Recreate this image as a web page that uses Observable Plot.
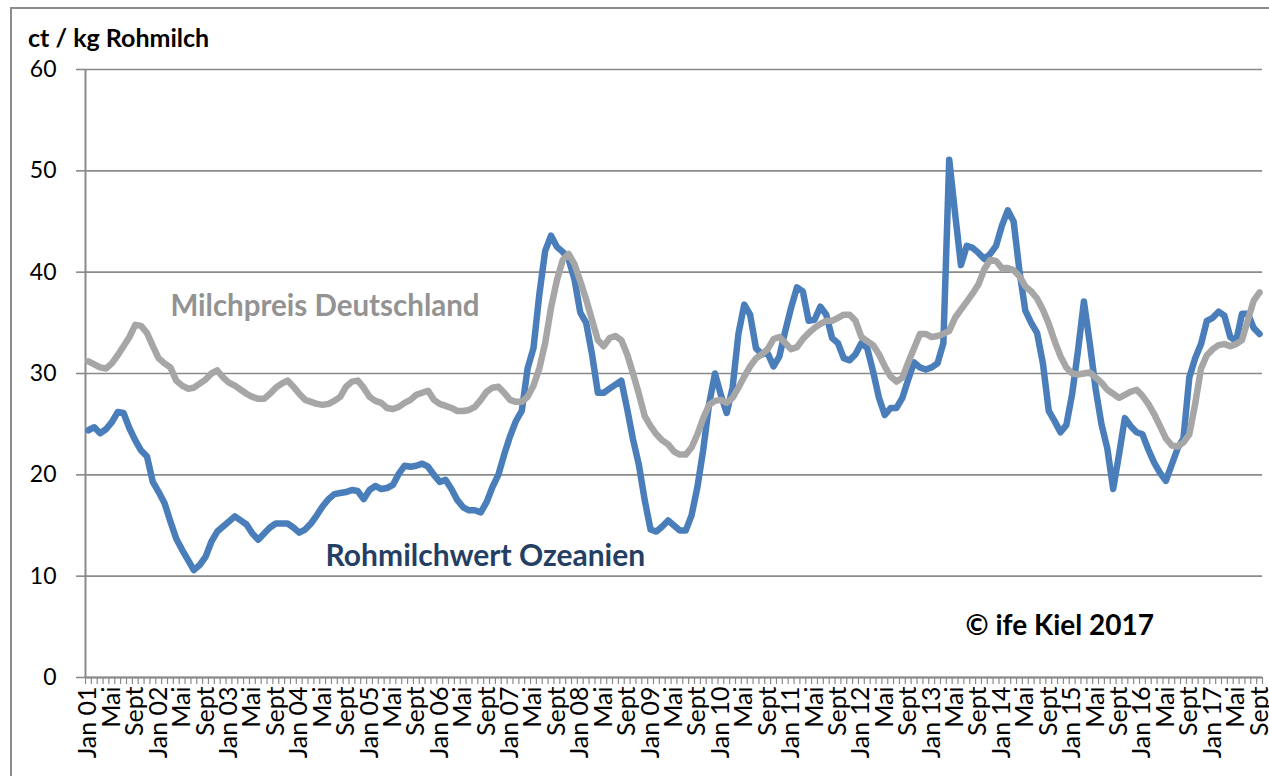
<!DOCTYPE html>
<html>
<head>
<meta charset="utf-8">
<script src="https://cdn.jsdelivr.net/npm/d3@7"></script>
<script src="https://cdn.jsdelivr.net/npm/@observablehq/plot@0.6"></script>
<style>
  html, body { margin: 0; padding: 0; background: #fff; }
  #wrap { position: relative; width: 1269px; height: 776px; overflow: hidden; background: #fff; }
  #frame { position: absolute; left: 10px; top: 7px; width: 1300px; height: 820px; border: 2px solid #8c8c8c; box-sizing: border-box; }
  #title { position: absolute; left: 28px; top: 23px; font: bold 25px Lato, sans-serif; color: #000; line-height: 28px; white-space: nowrap; }
  #chart { position: absolute; left: 0; top: 0; }
</style>
</head>
<body>
<div id="wrap">
  <div id="frame"></div>
  <div id="chart"></div>
  <div id="title">ct / kg Rohmilch</div>
</div>
<script>
// Monthly values, Jan 2001 .. Sept 2017 (201 months)
const rohmilchwertOzeanien = [
  24.4, 24.7, 24.1, 24.5, 25.2, 26.2, 26.1, 24.6, 23.4, 22.4, 21.8, 19.3,
  18.3, 17.2, 15.4, 13.7, 12.6, 11.6, 10.6, 11.1, 11.9, 13.4, 14.4, 14.9,
  15.4, 15.9, 15.5, 15.1, 14.2, 13.6, 14.2, 14.8, 15.2, 15.2, 15.2, 14.8,
  14.3, 14.6, 15.2, 16.0, 16.9, 17.6, 18.1, 18.2, 18.3, 18.5, 18.4, 17.6,
  18.5, 18.9, 18.6, 18.7, 19.0, 20.1, 20.9, 20.8, 20.9, 21.1, 20.8, 20.0,
  19.3, 19.5, 18.6, 17.5, 16.8, 16.5, 16.5, 16.3, 17.3, 18.8, 20.0, 22.0,
  23.8, 25.3, 26.3, 30.5, 32.5, 37.8, 42.1, 43.6, 42.5, 42.0, 41.3, 39.3,
  36.0, 35.0, 31.9, 28.1, 28.1, 28.5, 28.9, 29.3, 26.5, 23.5, 21.0, 17.5,
  14.6, 14.4, 14.9, 15.5, 15.0, 14.5, 14.5, 16.0, 18.8, 22.5, 27.0, 30.0,
  27.9, 26.1, 28.6, 33.9, 36.8, 35.8, 32.5, 31.9, 32.0, 30.7, 31.7, 34.2,
  36.5, 38.5, 38.1, 35.2, 35.3, 36.6, 35.8, 33.5, 33.0, 31.5, 31.3, 31.9,
  33.0, 32.5, 30.2, 27.6, 25.9, 26.6, 26.6, 27.6, 29.4, 31.1, 30.6, 30.4,
  30.6, 31.0, 33.0, 51.1, 45.8, 40.7, 42.6, 42.4, 41.9, 41.3, 41.8, 42.6,
  44.6, 46.1, 45.0, 40.1, 36.2, 35.0, 34.0, 31.0, 26.3, 25.3, 24.2, 24.9,
  28.0, 32.3, 37.1, 33.0, 28.5, 25.0, 22.6, 18.6, 22.0, 25.6, 24.8, 24.2,
  24.0, 22.5, 21.2, 20.2, 19.4, 21.0, 22.6, 23.6, 29.6, 31.5, 32.9, 35.2,
  35.5, 36.1, 35.7, 33.6, 33.2, 35.9, 35.9, 34.5, 33.9
];
const milchpreisDeutschland = [
  31.2, 30.9, 30.6, 30.5, 31.0, 31.8, 32.7, 33.6, 34.8, 34.7, 34.0, 32.7,
  31.5, 31.0, 30.6, 29.3, 28.8, 28.5, 28.6, 29.0, 29.4, 30.0, 30.3, 29.6,
  29.1, 28.8, 28.4, 28.0, 27.7, 27.5, 27.5, 28.0, 28.6, 29.0, 29.3, 28.7,
  28.0, 27.4, 27.2, 27.0, 26.9, 27.0, 27.3, 27.7, 28.7, 29.2, 29.3, 28.6,
  27.7, 27.3, 27.1, 26.6, 26.5, 26.7, 27.1, 27.4, 27.9, 28.1, 28.3, 27.4,
  27.0, 26.8, 26.6, 26.3, 26.3, 26.4, 26.7, 27.4, 28.2, 28.6, 28.7, 28.1,
  27.4, 27.2, 27.2, 27.7, 28.8, 30.5, 33.0, 36.5, 39.2, 41.2, 41.8, 40.8,
  39.1, 37.3, 35.3, 33.3, 32.7, 33.5, 33.7, 33.3, 31.9, 30.0, 28.0, 25.8,
  24.8, 24.0, 23.4, 23.0, 22.3, 22.0, 22.0, 22.7, 24.0, 25.6, 26.9, 27.3,
  27.4, 27.1, 27.6, 28.6, 29.7, 30.7, 31.5, 31.9, 32.4, 33.4, 33.6, 33.0,
  32.4, 32.6, 33.4, 34.0, 34.5, 34.9, 35.2, 35.2, 35.5, 35.8, 35.8, 35.2,
  33.6, 33.2, 32.8, 31.9, 30.7, 29.7, 29.2, 29.6, 31.1, 32.5, 33.9, 33.9,
  33.6, 33.7, 33.9, 34.2, 35.5, 36.3, 37.1, 37.9, 38.8, 40.3, 41.2, 41.1,
  40.4, 40.4, 40.2, 39.6, 38.6, 38.1, 37.4, 36.3, 34.9, 33.2, 31.7, 30.6,
  30.0, 29.9, 30.0, 30.1, 29.6, 29.1, 28.4, 28.0, 27.6, 27.9, 28.2, 28.4,
  27.8, 27.0, 26.0, 24.8, 23.6, 22.9, 22.8, 23.2, 24.0, 27.0, 30.5, 31.8,
  32.4, 32.8, 32.9, 32.7, 32.9, 33.3, 35.3, 37.2, 38.0
];
const years = ["01","02","03","04","05","06","07","08","09","10","11","12","13","14","15","16","17"];
const monthNames = ["Jan", "Mai", "Sept"]; // label every 4th month
const yTicks = [0, 10, 20, 30, 40, 50, 60];
const seriesLabels = [
  {text: "Milchpreis Deutschland", i: 14.0, v: 36.6, color: "#939393", size: 29.5},
  {text: "Rohmilchwert Ozeanien", i: 40.5, v: 12.0, color: "#243f63", size: 30},
  {text: "© ife Kiel 2017", i: 149.8, v: 5.1, color: "#000000", size: 28}
];

const n = rohmilchwertOzeanien.length;
const labelIdx = d3.range(0, n, 4);
const labelText = i => {
  const k = (i / 4) % 3;
  const y = years[Math.floor(i / 12)];
  return k === 0 ? `${monthNames[0]} ${y}` : monthNames[k];
};
const boundaries = d3.range(-0.5, n + 0.5, 1);

const blue = rohmilchwertOzeanien.map((v, i) => ({i, v}));
const grey = milchpreisDeutschland.map((v, i) => ({i, v}));

const chart = Plot.plot({
  width: 1269,
  height: 776,
  marginLeft: 85,
  marginRight: 7,
  marginTop: 69,
  marginBottom: 99,
  style: {fontFamily: "Lato, sans-serif", background: "transparent", overflow: "visible"},
  x: {type: "linear", domain: [-0.5, n - 0.5]},
  y: {domain: [0, 60]},
  marks: [
    Plot.gridY(yTicks, {stroke: "#8a8a8a", strokeOpacity: 1, strokeWidth: 1.6}),
    Plot.axisY(yTicks, {tickSize: 9, tickPadding: 20, fontSize: 23, fill: "#000", stroke: "#8a8a8a", strokeWidth: 1.6, label: null}),
    Plot.ruleX([-0.5], {stroke: "#8a8a8a", strokeWidth: 2}),
    Plot.ruleY([0], {stroke: "#8a8a8a", strokeWidth: 2}),
    Plot.axisX(boundaries, {tickSize: 7, tickFormat: () => "", stroke: "#8a8a8a", strokeWidth: 1.2, label: null}),
    Plot.axisX(labelIdx, {tickSize: 0, tickPadding: 9, tickRotate: -90, fontSize: 25, fill: "#000", tickFormat: labelText, label: null}),
    Plot.line(blue, {x: "i", y: "v", stroke: "#4a7ebb", strokeWidth: 6.5, strokeLinejoin: "round", strokeLinecap: "round"}),
    Plot.line(grey, {x: "i", y: "v", stroke: "#a6a6a6", strokeWidth: 6.5, strokeLinejoin: "round", strokeLinecap: "round"}),
    Plot.text(seriesLabels, {x: "i", y: "v", text: "text", fill: "color", textAnchor: "start", fontSize: d => d.size, fontWeight: "bold"})
  ]
});
document.getElementById("chart").appendChild(chart);
</script>
</body>
</html>
